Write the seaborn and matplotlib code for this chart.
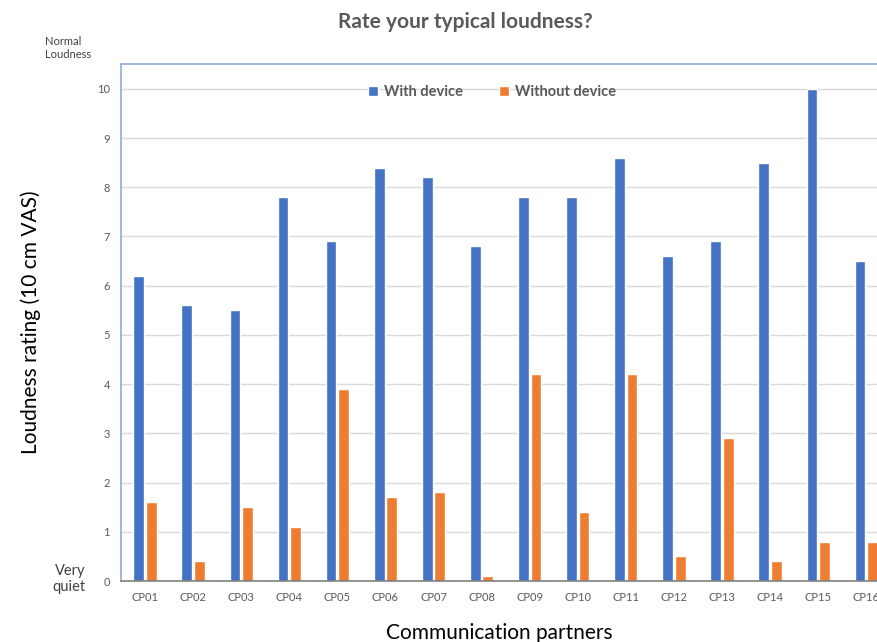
import matplotlib.pyplot as plt
import pandas as pd
import seaborn as sns

partners = [f"CP{i:02d}" for i in range(1, 17)]
with_device = [6.2, 5.6, 5.5, 7.8, 6.9, 8.4, 8.2, 6.8, 7.8, 7.8, 8.6, 6.6, 6.9, 8.5, 10.0, 6.5]
without_device = [1.6, 0.4, 1.5, 1.1, 3.9, 1.7, 1.8, 0.1, 4.2, 1.4, 4.2, 0.5, 2.9, 0.4, 0.8, 0.8]
conditions = ["With device", "Without device"]
y_ticks = list(range(0, 11))

sns.set_theme(style="white")
plt.rcParams["font.family"] = ["Lato", "DejaVu Sans"]

df = pd.DataFrame(
    {
        "partner": partners * 2,
        "rating": with_device + without_device,
        "condition": [conditions[0]] * len(partners) + [conditions[1]] * len(partners),
    }
)

fig = plt.figure(figsize=(8.78, 6.42), dpi=100)
ax = fig.add_axes([0.1378, 0.095, 0.862, 0.805])
sns.barplot(
    data=df,
    x="partner",
    y="rating",
    hue="condition",
    palette={"With device": "#4472C4", "Without device": "#ED7D31"},
    saturation=1,
    width=0.52,
    gap=0.14,
    ax=ax,
    zorder=3,
)

ax.set_ylim(0, 10.5)
ax.set_xlim(-0.5, 15.24)
ax.set_yticks(y_ticks)
ax.yaxis.grid(True, color="#d9d9d9", linewidth=1, zorder=0)
ax.tick_params(axis="both", length=0, labelsize=8, colors="#595959", pad=8)

for side in ["top", "left"]:
    ax.spines[side].set_color("#8faadc")
    ax.spines[side].set_linewidth(1.2)
ax.spines["right"].set_visible(False)
ax.spines["bottom"].set_color("#7f7f7f")
ax.spines["bottom"].set_linewidth(1.2)
ax.spines["bottom"].set_zorder(4)

ax.set_xlabel("Communication partners", fontsize=15, color="black", labelpad=14)
ax.set_ylabel("Loudness rating (10 cm VAS)", fontsize=15, color="black", labelpad=40)

leg = ax.legend(
    loc="upper center",
    bbox_to_anchor=(0.49, 0.985),
    ncol=2,
    frameon=False,
    fontsize=10.5,
    handlelength=0.7,
    handleheight=0.7,
    columnspacing=2.5,
    handletextpad=0.4,
)
for t in leg.get_texts():
    t.set_color("#595959")
    t.set_fontweight("bold")

fig.text(0.53, 0.965, "Rate your typical loudness?", ha="center", va="center",
         fontsize=15, fontweight="bold", color="#595959")
fig.text(0.051, 0.925, "Normal\nLoudness", ha="left", va="center", fontsize=8, color="#404040",
         linespacing=1.3)
fig.text(0.097, 0.098, "Very\nquiet", ha="right", va="center", fontsize=10.5, color="#404040",
         linespacing=1.2)

fig.savefig("out.png", dpi=100)
plt.close(fig)
